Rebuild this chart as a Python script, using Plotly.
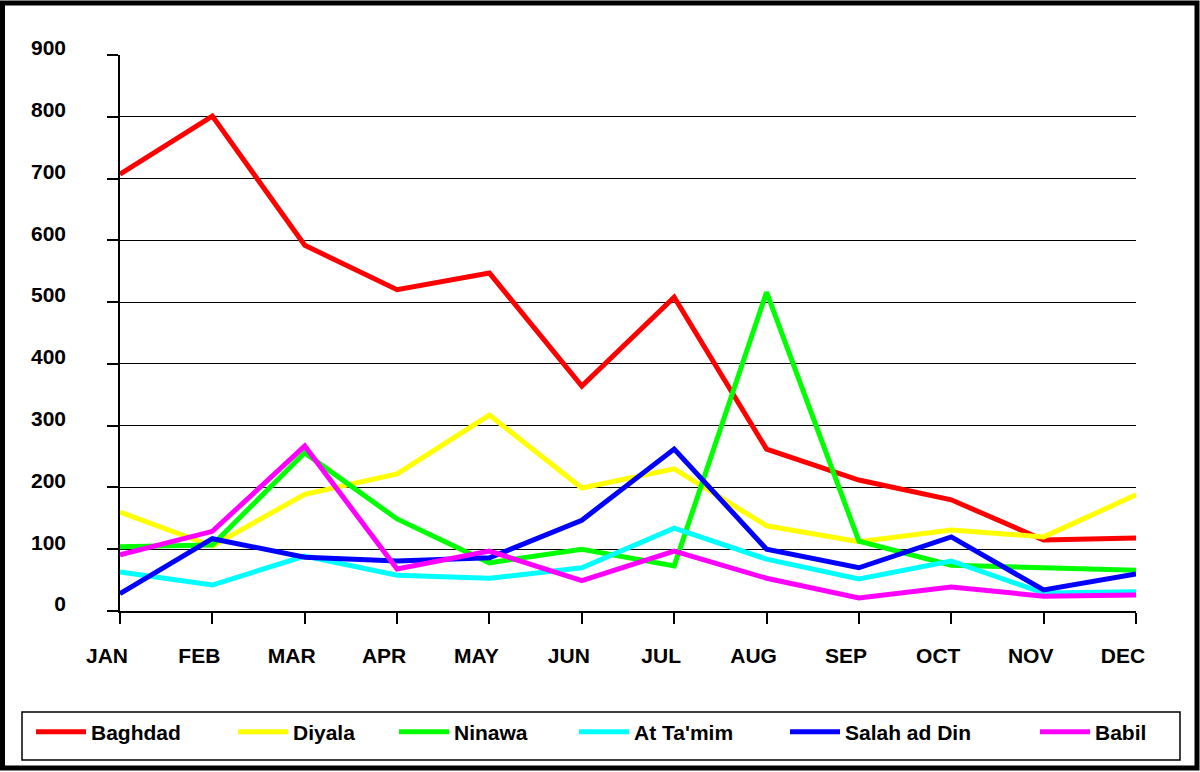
import plotly.graph_objects as go

months = ["JAN", "FEB", "MAR", "APR", "MAY", "JUN", "JUL", "AUG", "SEP", "OCT", "NOV", "DEC"]
baghdad = [707, 801, 592, 520, 547, 364, 508, 262, 212, 180, 115, 118]
diyala = [160, 105, 189, 222, 317, 199, 230, 138, 112, 131, 120, 188]
ninawa = [104, 107, 256, 149, 78, 100, 73, 516, 113, 74, 70, 66]
at_tamim = [63, 42, 89, 58, 53, 70, 134, 84, 52, 81, 29, 31]
salah = [28, 117, 87, 81, 86, 147, 262, 100, 70, 120, 34, 60]
babil = [91, 129, 267, 68, 97, 49, 97, 53, 21, 39, 24, 26]

series = [
    ("Baghdad", baghdad, "#FF0000"),
    ("Diyala", diyala, "#FFFF00"),
    ("Ninawa", ninawa, "#00FF00"),
    ("At Ta'mim", at_tamim, "#00FFFF"),
    ("Salah ad Din", salah, "#0000FF"),
    ("Babil", babil, "#FF00FF"),
]
y_ticks = [0, 100, 200, 300, 400, 500, 600, 700, 800, 900]

# plot area in pixels
L, R, T, B = 120, 1136, 55, 611
W, H = R - L, B - T
def px(x):
    return (x - L) / W
def py(y):
    return (B - y) / H

font = dict(family="Liberation Sans, Arial, sans-serif", size=21, color="black", weight="bold")

legend_text_x = [91, 293, 454, 634, 845, 1095]

fig = go.Figure()
layout_legends = {}
for i, (name, vals, col) in enumerate(series):
    lk = "legend" if i == 0 else f"legend{i+1}"
    fig.add_trace(go.Scatter(
        x=months, y=vals, name=name, mode="lines",
        line=dict(color=col, width=5), cliponaxis=False,
        legend=lk,
    ))
    layout_legends[lk] = dict(
        x=px(legend_text_x[i] - 60), y=py(732), xanchor="left", yanchor="middle",
        bgcolor="rgba(0,0,0,0)", borderwidth=0, font=font, itemwidth=50,
    )

fig.update_layout(
    width=1200, height=772,
    margin=dict(l=L, r=1200 - R, t=T, b=772 - B),
    paper_bgcolor="white", plot_bgcolor="white",
    showlegend=True,
    xaxis=dict(
        type="category", range=[0, 11], showgrid=False, zeroline=False,
        showline=True, linecolor="black", linewidth=1.5,
        ticks="outside", ticklen=11, tickcolor="black", tickwidth=1.5,
        tickfont=font, ticklabelstandoff=14, ticklabelshift=-13,
    ),
    yaxis=dict(
        range=[0, 900], tickvals=y_ticks, showgrid=True, gridcolor="black", gridwidth=1,
        zeroline=False, showline=True, linecolor="black", linewidth=1.5,
        ticks="outside", ticklen=11, tickcolor="black", tickwidth=1.5,
        tickfont=font, ticklabelstandoff=37, ticklabelshift=-7,
    ),
    shapes=[
        dict(type="rect", xref="paper", yref="paper",
             x0=px(22), x1=px(1180), y0=py(760), y1=py(712),
             line=dict(color="black", width=1.5), fillcolor="rgba(0,0,0,0)", layer="below"),
        dict(type="rect", xref="paper", yref="paper",
             x0=px(2.5), x1=px(1197), y0=py(768), y1=py(3),
             line=dict(color="black", width=5), fillcolor="rgba(0,0,0,0)"),
    ],
    **layout_legends,
)

fig.write_html(
    "out.html",
    config={"displayModeBar": False},
    post_script="document.body.style.margin='0';document.body.style.overflow='hidden';",
)
